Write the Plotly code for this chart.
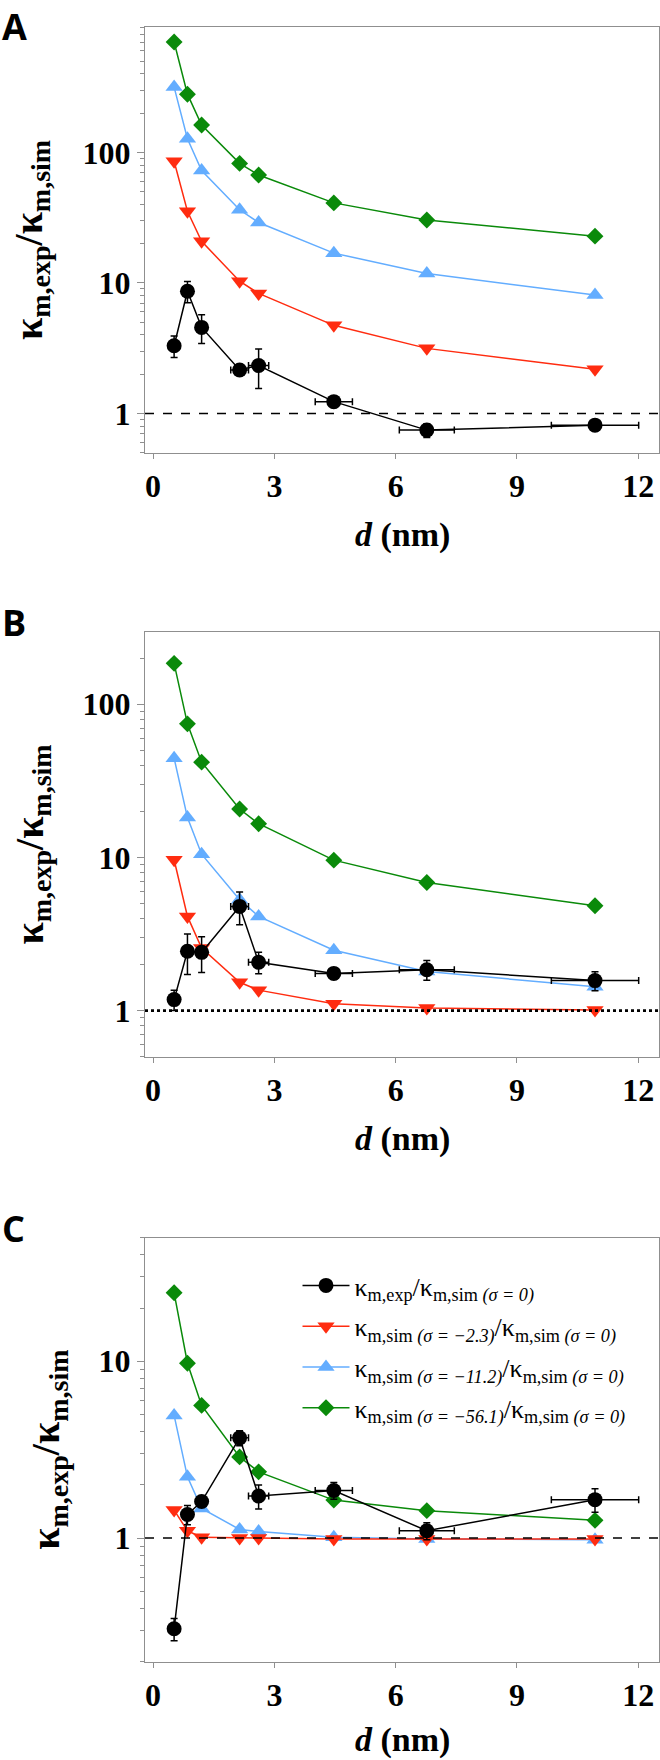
import plotly.graph_objects as go

# ---------------- data ----------------
d_nm = [0.52, 0.85, 1.2, 2.14, 2.61, 4.47, 6.77, 10.93]
d_err = [0, 0, 0, 0.22, 0.25, 0.46, 0.68, 1.08]

A_exp = [3.30, 8.63, 4.56, 2.15, 2.33, 1.23, 0.745, 0.813]
A_exp_err = [0.62, 1.6, 1.13, 0.10, 0.78, 0.08, 0.09, 0.04]
A_m23 = [85.5, 35.4, 20.8, 10.3, 8.3, 4.73, 3.15, 2.18]
A_m112 = [316, 127, 72.5, 36.3, 29.0, 16.9, 11.8, 8.07]
A_m561 = [701, 279, 162, 82.3, 67, 41, 30.3, 22.8]

B_exp = [1.18, 2.44, 2.40, 4.79, 2.07, 1.75, 1.85, 1.57]
B_exp_err = [0.18, 0.72, 0.63, 1.16, 0.33, 0.15, 0.27, 0.22]
B_m23 = [9.66, 4.12, 2.56, 1.53, 1.36, 1.11, 1.04, 1.01]
B_m112 = [44.5, 18.2, 10.5, 5.3, 4.12, 2.48, 1.80, 1.43]
B_m561 = [185, 74.5, 41.9, 20.7, 16.6, 9.6, 6.86, 4.84]

C_exp = [0.307, 1.36, 1.61, 3.69, 1.73, 1.86, 1.10, 1.65]
C_exp_err = [0.044, 0.17, 0.10, 0.36, 0.27, 0.20, 0.12, 0.25]
C_m23 = [1.44, 1.10, 1.01, 1.00, 1.00, 0.99, 0.99, 0.99]
C_m112 = [4.94, 2.22, 1.47, 1.12, 1.09, 1.01, 0.99, 0.98]
C_m561 = [24.4, 9.75, 5.63, 2.88, 2.37, 1.64, 1.43, 1.26]

x_ticks = [0, 3, 6, 9, 12]
panel_labels = ["A", "B", "C"]

names = {
    "exp": "κ<sub>m,exp</sub>/κ<sub>m,sim <i>(σ = 0)</i></sub>",
    "m23": "κ<sub>m,sim <i>(σ = −2.3)</i></sub>/κ<sub>m,sim <i>(σ = 0)</i></sub>",
    "m112": "κ<sub>m,sim <i>(σ = −11.2)</i></sub>/κ<sub>m,sim <i>(σ = 0)</i></sub>",
    "m561": "κ<sub>m,sim <i>(σ = −56.1)</i></sub>/κ<sub>m,sim <i>(σ = 0)</i></sub>",
}

# ---------------- styling ----------------
GREEN = "#0a8a0a"
BLUE = "#63adff"
RED = "#ff2c10"
BLACK = "#000000"
AXIS = "#8f8f8f"
SERIF = "Liberation Serif"

W, H = 660, 1760
x_dom = [145 / W, 659.3 / W]
y_top_pxs = [27.3, 632.3, 1237.7]
y_bot_pxs = [452.7, 1056.7, 1661.7]
y_doms = [[1 - b / H, 1 - t / H] for t, b in zip(y_top_pxs, y_bot_pxs)]
y_ranges = [[-0.301, 2.958], [-0.301, 2.470], [-0.699, 1.699]]
y_tickvals = [[1, 10, 100], [1, 10, 100], [1, 10]]
ref_dash = ["dash", "dot", "dash"]
ref_width = [1.5, 2.6, 1.5]
y_title_x = [31, 31, 48]
x_title_off = [82, 82, 78]

panels = [
    (A_exp, A_exp_err, A_m23, A_m112, A_m561),
    (B_exp, B_exp_err, B_m23, B_m112, B_m561),
    (C_exp, C_exp_err, C_m23, C_m112, C_m561),
]

fig = go.Figure()

for i, (exp, exp_err, m23, m112, m561) in enumerate(panels):
    xa = "x" if i == 0 else f"x{i+1}"
    ya = "y" if i == 0 else f"y{i+1}"
    show = i == 2
    common = dict(xaxis=xa, yaxis=ya, mode="lines+markers", showlegend=show)
    fig.add_trace(go.Scatter(x=d_nm, y=m561, name=names["m561"], legendrank=4,
                             legendgroup="g4",
                             line=dict(color=GREEN, width=1.5),
                             marker=dict(symbol="diamond", size=13, color=GREEN),
                             **common))
    fig.add_trace(go.Scatter(x=d_nm, y=m112, name=names["m112"], legendrank=3,
                             legendgroup="g3",
                             line=dict(color=BLUE, width=1.5),
                             marker=dict(symbol="triangle-up", size=15, color=BLUE),
                             **common))
    fig.add_trace(go.Scatter(x=d_nm, y=m23, name=names["m23"], legendrank=2,
                             legendgroup="g2",
                             line=dict(color=RED, width=1.5),
                             marker=dict(symbol="triangle-down", size=15, color=RED),
                             **common))
    fig.add_trace(go.Scatter(x=d_nm, y=exp, name=names["exp"], legendrank=1,
                             legendgroup="g1",
                             line=dict(color=BLACK, width=1.5),
                             marker=dict(symbol="circle", size=15, color=BLACK),
                             error_y=dict(type="data", array=exp_err, color=BLACK,
                                          thickness=1.5, width=3.5),
                             error_x=dict(type="data", array=d_err, color=BLACK,
                                          thickness=1.5, width=3.5),
                             **common))

    # horizontal reference line at y = 1
    fig.add_shape(type="line", xref=f"{xa} domain", yref=ya, x0=0, x1=1, y0=1, y1=1,
                  line=dict(color=BLACK, width=ref_width[i], dash=ref_dash[i]))

    xkey = "xaxis" if i == 0 else f"xaxis{i+1}"
    ykey = "yaxis" if i == 0 else f"yaxis{i+1}"
    fig.update_layout({
        xkey: dict(domain=x_dom, anchor=ya, range=[-0.2, 12.52],
                   tickvals=x_ticks, ticks="outside", ticklen=5, tickwidth=1.2,
                   tickcolor=AXIS, showline=True, linecolor=AXIS, linewidth=1.4,
                   mirror=True, showgrid=False, zeroline=False,
                   tickfont=dict(family=SERIF, size=32, color=BLACK, weight="bold")),
        ykey: dict(domain=y_doms[i], anchor=xa, type="log", range=y_ranges[i],
                   tickvals=y_tickvals[i], ticktext=[str(v) for v in y_tickvals[i]],
                   ticks="outside", ticklen=7, tickwidth=1.2, tickcolor=AXIS,
                   minor=dict(ticks="outside", ticklen=4, tickwidth=1, tickcolor=AXIS,
                              dtick="D1", showgrid=False),
                   showline=True, linecolor=AXIS, linewidth=1.4, mirror=True,
                   showgrid=False, zeroline=False,
                   tickfont=dict(family=SERIF, size=32, color=BLACK, weight="bold")),
    })

    y_top_px = y_top_pxs[i]
    y_bot_px = y_bot_pxs[i]
    # panel letter (top of its text box sits at frame top - 36 px, clamped to the page)
    letter_top = max(0.0, y_top_px - 36)
    fig.add_annotation(text=f"<b>{panel_labels[i]}</b>", xref="paper", yref="paper",
                       x=0.0, y=1 - letter_top / H, xanchor="left",
                       yanchor="top", showarrow=False,
                       font=dict(family="Open Sans", size=36, color=BLACK))
    # x title
    fig.add_annotation(text="<b><i>d</i> (nm)</b>", xref="paper", yref="paper",
                       x=(145 + 659.3) / 2 / W, y=1 - (y_bot_px + x_title_off[i]) / H,
                       xanchor="center", yanchor="middle", showarrow=False,
                       font=dict(family=SERIF, size=34, color=BLACK))
    # y title
    fig.add_annotation(text="<b>κ<sub>m,exp</sub>/κ<sub>m,sim</sub></b>", xref="paper",
                       yref="paper", x=y_title_x[i] / W, y=1 - (y_top_px + y_bot_px) / 2 / H,
                       xanchor="center", yanchor="middle", textangle=-90, showarrow=False,
                       font=dict(family=SERIF, size=40, color=BLACK))

fig.update_layout(
    width=W, height=H,
    margin=dict(l=0, r=0, t=0, b=0),
    paper_bgcolor="white", plot_bgcolor="white",
    legend=dict(x=297.5 / W, y=1 - 1262 / H, xanchor="left", yanchor="top",
                bgcolor="rgba(0,0,0,0)", tracegroupgap=4, itemwidth=47,
                font=dict(family=SERIF, size=26, color=BLACK)),
)

fig.write_html(
    "out.html",
    config={"displayModeBar": False},
    post_script="document.body.style.margin='0';document.body.style.overflow='hidden';",
)
